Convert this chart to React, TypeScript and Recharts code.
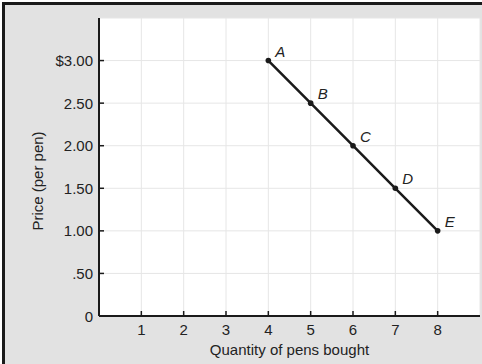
import { LineChart, Line, XAxis, YAxis, CartesianGrid, LabelList, Label } from "recharts"

// demand schedule for pens
const quantities = [4, 5, 6, 7, 8]
const prices = [3.0, 2.5, 2.0, 1.5, 1.0]
const pointNames = ["A", "B", "C", "D", "E"]

const xTicks = [1, 2, 3, 4, 5, 6, 7, 8]
const yTicks = [0, 0.5, 1, 1.5, 2, 2.5, 3]
const yTickLabels = ["0", ".50", "1.00", "1.50", "2.00", "2.50", "$3.00"]

const data = quantities.map((q, i) => ({ q, price: prices[i], name: pointNames[i] }))

const W = 482
const H = 364
const MARGIN = { top: 18, right: 2, bottom: 0, left: 0 }
const Y_AXIS_W = 99
const X_AXIS_H = 48
const PLOT_LEFT = MARGIN.left + Y_AXIS_W
const PLOT_BOTTOM = H - MARGIN.bottom - X_AXIS_H

const FONT = "'Liberation Sans', Arial, Helvetica, sans-serif"
const INK = "#1a1a1a"
const TEXT = "#222"
const FS = 15

const XTick = ({ x, payload }: any) => (
  <g>
    <line x1={x} x2={x} y1={PLOT_BOTTOM} y2={PLOT_BOTTOM - 5} stroke={INK} strokeWidth={1.5} />
    <text x={x} y={PLOT_BOTTOM + 19} textAnchor="middle" fontSize={FS} fill={TEXT} fontFamily={FONT}>
      {payload.value}
    </text>
  </g>
)

const YTick = ({ y, payload }: any) => {
  const idx = yTicks.indexOf(payload.value)
  return (
    <g>
      {payload.value !== 0 && (
        <line x1={PLOT_LEFT} x2={PLOT_LEFT + 5} y1={y} y2={y} stroke={INK} strokeWidth={1.5} />
      )}
      <text x={PLOT_LEFT - 6} y={y + 5.5} textAnchor="end" fontSize={FS} fill={TEXT} fontFamily={FONT}>
        {yTickLabels[idx]}
      </text>
    </g>
  )
}

const PointLabel = ({ x, y, value }: any) => (
  <text x={x + 7} y={y - 4} fontSize={FS} fontStyle="italic" fill={TEXT} fontFamily={FONT}>
    {value}
  </text>
)

const PriceTitle = () => (
  <text
    x={37}
    y={181}
    transform="rotate(-90, 37, 181)"
    textAnchor="middle"
    dominantBaseline="central"
    fontSize={FS}
    fill={TEXT}
    fontFamily={FONT}
  >
    Price (per pen)
  </text>
)

export default function App() {
  return (
    <div style={{ position: "fixed", left: 0, top: 0, width: W, height: H, background: "#fff" }}>
      {/* page frame */}
      <div
        style={{
          position: "absolute",
          left: 2,
          top: 2,
          right: 0,
          bottom: 0,
          borderLeft: `3px solid ${INK}`,
          borderTop: `3px solid ${INK}`,
          background: "#e2e2e2",
        }}
      />
      <div style={{ position: "absolute", left: 0, top: 0 }}>
        <LineChart width={W} height={H} data={data} margin={MARGIN}>
          <CartesianGrid fill="#fff" stroke="#e6e6e6" strokeWidth={1} />
          <XAxis
            type="number"
            dataKey="q"
            domain={[0, 9]}
            ticks={xTicks}
            height={X_AXIS_H}
            tickLine={false}
            axisLine={{ stroke: INK, strokeWidth: 2 }}
            tick={<XTick />}
            interval={0}
          >
            <Label
              value="Quantity of pens bought"
              position="insideBottom"
              offset={9}
              fontSize={FS}
              fill={TEXT}
              fontFamily={FONT}
            />
          </XAxis>
          <YAxis
            type="number"
            domain={[0, 3.5]}
            ticks={yTicks}
            width={Y_AXIS_W}
            tickLine={false}
            axisLine={{ stroke: INK, strokeWidth: 2 }}
            tick={<YTick />}
            interval={0}
          >
            <Label content={<PriceTitle />} />
          </YAxis>
          <Line
            type="linear"
            dataKey="price"
            stroke={INK}
            strokeWidth={2.5}
            dot={{ r: 2.8, fill: INK, stroke: "none" }}
            isAnimationActive={false}
          >
            <LabelList dataKey="name" content={<PointLabel />} />
          </Line>
        </LineChart>
      </div>
    </div>
  )
}
